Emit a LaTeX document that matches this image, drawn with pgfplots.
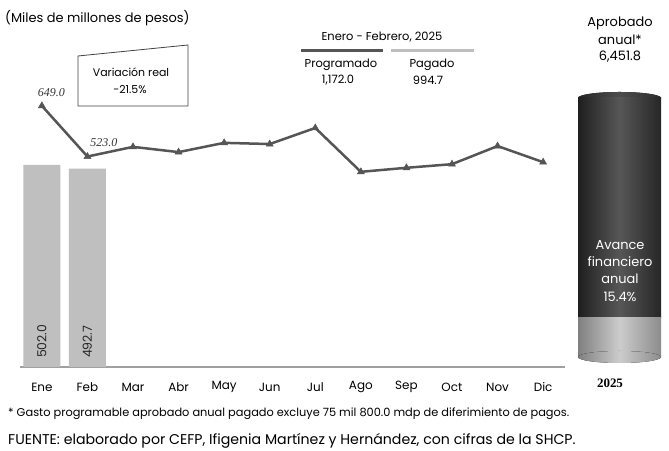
\documentclass[border=0pt]{standalone}
\usepackage{pgfplots}
\pgfplotsset{compat=1.18}
\usepackage{fontspec}
\setmainfont{Poppins}
\newfontfamily\numfont{Liberation Serif}
\definecolor{linegray}{HTML}{555555}
\definecolor{bargray}{HTML}{BFBFBF}
\definecolor{axisgray}{HTML}{A0A0A0}

\begin{document}
\begin{tikzpicture}[x=1bp,y=1bp]
\useasboundingbox (0,0) rectangle (669,451);

% monthly chart
\begin{axis}[
  at={(20bp,84bp)}, anchor=south west,
  scale only axis, width=545bp, height=281.7bp,
  xmin=-0.48, xmax=11.48, ymin=0, ymax=700,
  axis x line*=bottom, axis y line=none,
  x axis line style={draw=axisgray, line width=1.5bp},
  xtick={0,...,11},
  xticklabels={Ene,Feb,Mar,Abr,May,Jun,Jul,Ago,Sep,Oct,Nov,Dic},
  major tick length=0pt,
  xticklabel style={anchor=center, yshift=-20bp, font=\fontsize{12}{12}\selectfont},
  clip=false,
]
% Pagado
\addplot[ybar, bar width=37bp, fill=bargray, draw=none]
  coordinates {(0,502.0) (1,492.7)};
% Programado
\addplot[linegray, line width=2.5bp, mark=triangle*, mark size=4bp,
  mark options={fill=linegray, line width=0.5bp}]
  coordinates {(0,649.0) (1,523.0) (2,547) (3,534) (4,557) (5,554)
               (6,594) (7,485) (8,495) (9,504) (10,549) (11,509)};
% value labels inside the bars
\addplot[only marks, mark=none, point meta=explicit symbolic,
  nodes near coords,
  nodes near coords style={rotate=90, anchor=west, inner sep=0pt,
    font=\fontsize{12.5}{12.5}\selectfont, text=black!85}]
  coordinates {(0,22) [502.0] (1,22) [492.7]};
% value labels on the line
\addplot[only marks, mark=none, point meta=explicit symbolic,
  nodes near coords,
  nodes near coords style={anchor=center, yshift=13.5bp, inner sep=0pt,
    font=\numfont\itshape\fontsize{12}{12}\selectfont, text=black!80}]
  coordinates {(0.21,649.0) [649.0] (1.36,523.0) [523.0]};
\end{axis}

% annual cylinder
\begin{axis}[
  at={(578bp,94bp)}, anchor=south west,
  scale only axis, width=83bp, height=259bp,
  xmin=-0.5, xmax=0.5, ymin=0, ymax=6451.8,
  hide axis, clip=false,
  ybar stacked, bar width=83bp,
]
\fill[left color=black!50, right color=black!45, middle color=black!20]
  (axis cs:0,0) ellipse [x radius=41.5bp, y radius=6bp];
\addplot[draw=none, left color=black!50, right color=black!45, middle color=black!20]
  coordinates {(0,994.7)};
\addplot[draw=none, left color=black!88, right color=black!85, middle color=black!66]
  coordinates {(0,5457.1)};
\fill[left color=black!88, right color=black!85, middle color=black!66]
  (axis cs:0,994.7) ellipse [x radius=41.5bp, y radius=6bp];
\fill[left color=black!85, right color=black!82, middle color=black!70]
  (axis cs:0,6451.8) ellipse [x radius=41.5bp, y radius=6bp];
\end{axis}

% texts
\node[anchor=west, inner sep=0pt, font=\fontsize{13}{13}\selectfont] at (5,433) {(Miles de millones de pesos)};

\node[font=\fontsize{11.5}{11.5}\selectfont] at (382,414) {Enero - Febrero, 2025};
\draw[linegray, line width=3bp] (301,400) -- (383,400);
\draw[bargray, line width=3bp] (391,400) -- (474,400);
\node[font=\fontsize{11.5}{11.5}\selectfont] at (341,386) {Programado};
\node[font=\fontsize{11.5}{11.5}\selectfont] at (338,371) {1,172.0};
\node[font=\fontsize{11.5}{11.5}\selectfont] at (432,386) {Pagado};
\node[font=\fontsize{11.5}{11.5}\selectfont] at (428,371) {994.7};

\draw[line width=0.8bp, black!75] (78,395) -- (188,406) -- (188,345) -- (78,345) -- cycle;
\node[font=\fontsize{11}{11}\selectfont] at (131,379) {Variación real};
\node[font=\fontsize{11}{11}\selectfont] at (130,361) {-21.5\%};

\node[font=\fontsize{13}{13}\selectfont] at (620,428) {Aprobado};
\node[font=\fontsize{13}{13}\selectfont] at (620,411) {anual*};
\node[font=\fontsize{13}{13}\selectfont] at (620,394) {6,451.8};

\node[text=white, font=\fontsize{13}{13}\selectfont] at (620,206) {Avance};
\node[text=white, font=\fontsize{13}{13}\selectfont] at (620,189) {financiero};
\node[text=white, font=\fontsize{13}{13}\selectfont] at (620,172) {anual};
\node[text=white, font=\fontsize{13}{13}\selectfont] at (620,154) {15.4\%};

\node[font=\numfont\bfseries\fontsize{13}{13}\selectfont] at (610,68) {2025};

\node[anchor=west, inner sep=0pt, font=\fontsize{11.4}{11.4}\selectfont] at (8,37)
  {* Gasto programable aprobado anual pagado excluye 75 mil 800.0 mdp de diferimiento de pagos.};
\node[anchor=west, inner sep=0pt, font=\fontsize{14.2}{14.2}\selectfont] at (8,10)
  {FUENTE: elaborado por CEFP, Ifigenia Martínez y Hernández, con cifras de la SHCP.};
\end{tikzpicture}
\end{document}
